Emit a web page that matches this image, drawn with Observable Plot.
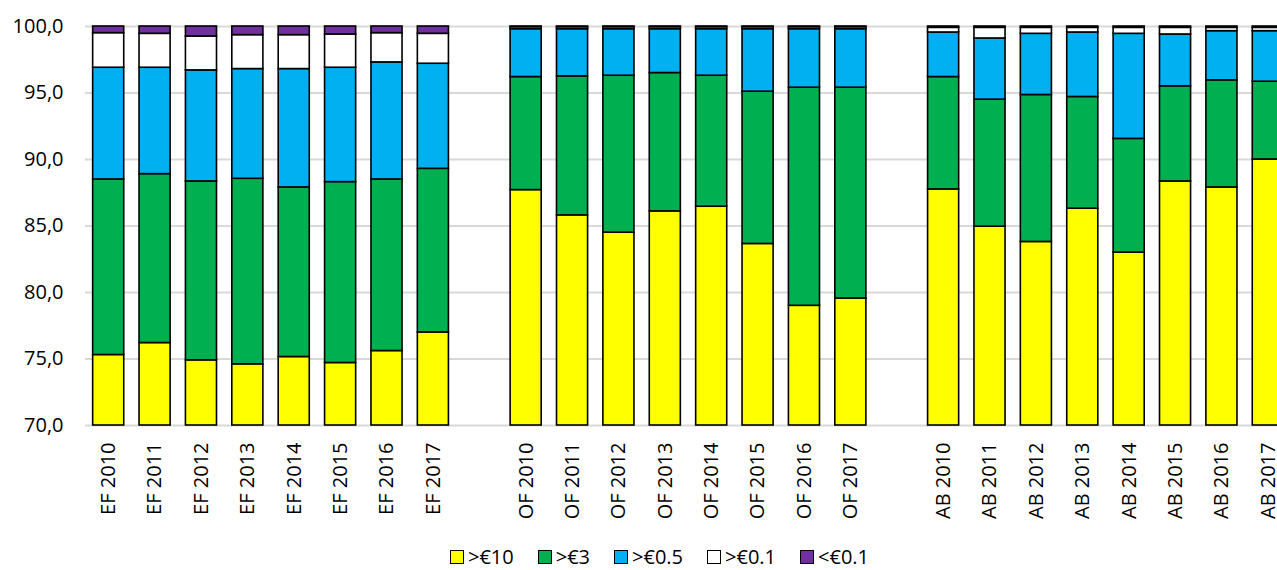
<!DOCTYPE html>
<html>
<head>
<meta charset="utf-8">
<script src="https://cdn.jsdelivr.net/npm/d3@7"></script>
<script src="https://cdn.jsdelivr.net/npm/@observablehq/plot@0.6"></script>
<style>
  html, body { margin: 0; padding: 0; background: #fff; overflow: hidden; }
  body { font-family: "Open Sans", sans-serif; color: #000; }
  #chart { width: 1277px; height: 530px; overflow: hidden; }
  #chart svg { overflow: hidden; }
  #legend { position: relative; height: 40px; width: 1277px; }
  #legend .items { position: absolute; left: 450px; top: 13px; display: flex; align-items: center; gap: 24px; font-size: 20px; line-height: 27px; }
  #legend .item { display: flex; align-items: center; gap: 4px; }
  #legend .sw { width: 12px; height: 12px; border: 1px solid #000; display: inline-block; }
</style>
</head>
<body>
<div id="chart"></div>
<div id="legend"><div class="items"></div></div>
<script>
// Categories (x axis)
const categories = [
  "EF 2010","EF 2011","EF 2012","EF 2013","EF 2014","EF 2015","EF 2016","EF 2017",
  "OF 2010","OF 2011","OF 2012","OF 2013","OF 2014","OF 2015","OF 2016","OF 2017",
  "AB 2010","AB 2011","AB 2012","AB 2013","AB 2014","AB 2015","AB 2016","AB 2017"
];
// Empty slots separating the groups
const gapSlots = [" ", "  "];

// Series names and colours
const seriesNames = [">€10", ">€3", ">€0.5", ">€0.1", "<€0.1"];
const seriesColors = ["#FFFF00", "#00B050", "#00B0F0", "#FFFFFF", "#7030A0"];

// Series values (share, %), one per category
const over10 = [75.3, 76.2, 74.9, 74.6, 75.15, 74.7, 75.6, 77.0,
                87.7, 85.8, 84.5, 86.1, 86.45, 83.65, 79.0, 79.55,
                87.75, 84.95, 83.8, 86.3, 83.0, 88.35, 87.9, 90.0];
const over3  = [13.2, 12.7, 13.45, 13.95, 12.75, 13.6, 12.9, 12.3,
                8.5, 10.45, 11.8, 10.4, 9.85, 11.45, 16.4, 15.85,
                8.45, 9.55, 11.05, 8.4, 8.55, 7.15, 8.05, 5.85];
const over05 = [8.4, 8.0, 8.35, 8.25, 8.9, 8.6, 8.8, 7.9,
                3.6, 3.55, 3.5, 3.3, 3.5, 4.7, 4.4, 4.4,
                3.35, 4.6, 4.6, 4.85, 7.9, 3.9, 3.7, 3.8];
const over01 = [2.6, 2.55, 2.55, 2.55, 2.55, 2.5, 2.2, 2.25,
                0.15, 0.15, 0.15, 0.15, 0.15, 0.15, 0.15, 0.15,
                0.35, 0.8, 0.45, 0.35, 0.45, 0.5, 0.25, 0.25];
const under01 = [0.5, 0.55, 0.75, 0.65, 0.65, 0.6, 0.5, 0.55,
                 0.05, 0.05, 0.05, 0.05, 0.05, 0.05, 0.05, 0.05,
                 0.1, 0.1, 0.1, 0.1, 0.1, 0.1, 0.1, 0.1];

// Y tick values
const yTicks = [70, 75, 80, 85, 90, 95, 100];

const seriesValues = [over10, over3, over05, over01, under01];
const data = [];
categories.forEach((c, i) => {
  seriesNames.forEach((s, j) => {
    data.push({cat: c, series: s, value: seriesValues[j][i]});
  });
});

const xDomain = [...categories.slice(0, 8), gapSlots[0], ...categories.slice(8, 16), gapSlots[1], ...categories.slice(16)];

const chart = Plot.plot({
  width: 1277,
  height: 530,
  marginLeft: 85,
  marginRight: -14,
  marginTop: 26,
  marginBottom: 105,
  style: {fontFamily: "'Open Sans', sans-serif", fontSize: "20px", color: "#000", background: "#fff", overflow: "hidden"},
  x: {domain: xDomain, paddingInner: 0.33, paddingOuter: 0.165, round: false, axis: null, label: null},
  y: {domain: [70, 100], clamp: true, axis: null, label: null},
  color: {domain: seriesNames, range: seriesColors},
  marks: [
    Plot.gridY(yTicks, {stroke: "#d9d9d9", strokeOpacity: 1, strokeWidth: 2}),
    Plot.barY(data, {x: "cat", y: "value", z: "series", fill: "series", order: seriesNames, stroke: "#000", strokeWidth: 1.6}),
    Plot.axisY(yTicks, {tickSize: 0, tickPadding: 22, fontSize: 20, label: null, tickFormat: d => d.toFixed(1).replace(".", ",")}),
    Plot.axisX(categories, {tickSize: 0, tickPadding: 17, tickRotate: -90, fontSize: 20, label: null})
  ]
});
document.getElementById("chart").appendChild(chart);

const items = document.querySelector("#legend .items");
seriesNames.forEach((s, i) => {
  const it = document.createElement("div");
  it.className = "item";
  const sw = document.createElement("span");
  sw.className = "sw";
  sw.style.background = seriesColors[i];
  const t = document.createElement("span");
  t.textContent = s;
  it.appendChild(sw);
  it.appendChild(t);
  items.appendChild(it);
});
</script>
</body>
</html>
